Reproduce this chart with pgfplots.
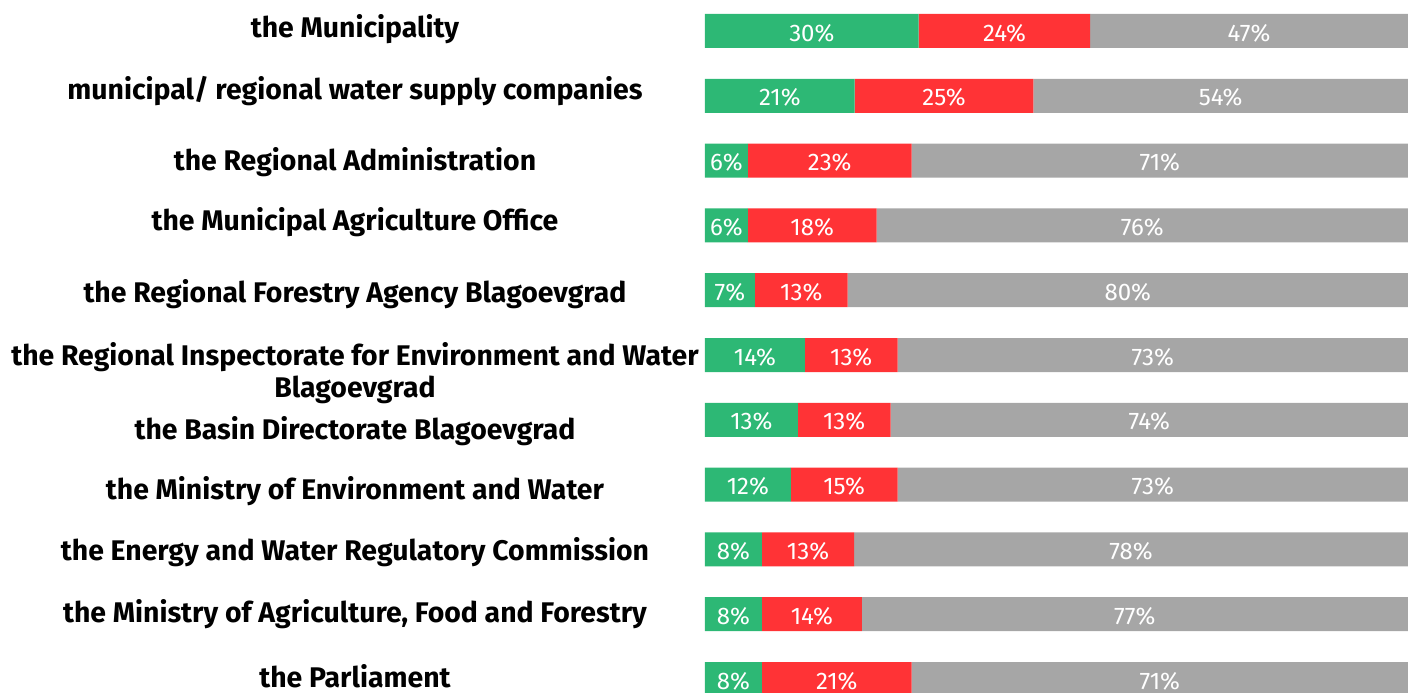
\documentclass[border=0pt]{standalone}
\usepackage{fontspec}
\setmainfont{Fira Sans}
\usepackage{pgfplots}
\usepackage{pgfplotstable}
\pgfplotsset{compat=1.18}

\definecolor{cgreen}{RGB}{45,184,117}
\definecolor{cred}{RGB}{255,51,54}
\definecolor{cgray}{RGB}{166,166,166}

% shares in % of bar length, labels as printed
\pgfplotstableread{
row g r n gl rl nl
0 30.4 24.4 45.2 30 24 47
1 21.3 25.4 53.3 21 25 54
2 6.1 23.3 70.6 6 23 71
3 6.1 18.3 75.6 6 18 76
4 7.1 13.2 79.7 7 13 80
5 14.2 13.2 72.6 14 13 73
6 13.2 13.2 73.6 13 13 74
7 12.2 15.2 72.6 12 15 73
8 8.1 13.1 78.8 8 13 78
9 8.1 14.2 77.7 8 14 77
10 8.1 21.3 70.6 8 21 71
}\data

\begin{document}
\begin{tikzpicture}
\begin{axis}[
    name=ax,
    xbar stacked,
    scale only axis,
    width=351.5pt, height=346pt,
    xmin=0, xmax=100,
    ymin=-0.478, ymax=10.2,
    y dir=reverse,
    bar width=17pt,
    axis line style={draw=none},
    major tick length=0pt,
    xtick=\empty,
    % ticks sit at the baselines of the category names
    ytick={0.054,1.011,2.100,3.030,4.147,6.262,7.185,8.131,9.085,10.077},
    yticklabels={the Municipality, municipal/ regional water supply companies,
        the Regional Administration, the Municipal Agriculture Office,
        the Regional Forestry Agency Blagoevgrad,
        the Basin Directorate Blagoevgrad, the Ministry of Environment and Water,
        the Energy and Water Regulatory Commission,
        {the Ministry of Agriculture, Food and Forestry}, the Parliament},
    extra y ticks={5.610},
    extra y tick labels={{the Regional Inspectorate for Environment and Water\\Blagoevgrad}},
    extra y tick style={major tick length=0pt, grid=none},
    yticklabel style={anchor=base, xshift=-175pt, yshift=-1.5pt, align=center, inner sep=0pt,
        font=\bfseries\fontsize{14.2}{16}\selectfont},
    nodes near coords={\pgfplotspointmeta\%},
    point meta=explicit symbolic,
    every node near coord/.append style={font=\fontsize{12}{14}\selectfont, text=white,
        anchor=center, yshift=-1pt},
]
\addplot[fill=cgreen, draw=none] table[x=g, y=row, meta=gl] {\data};
\addplot[fill=cred, draw=none] table[x=r, y=row, meta=rl] {\data};
\addplot[fill=cgray, draw=none] table[x=n, y=row, meta=nl] {\data};
\end{axis}
\pgfresetboundingbox
\path (ax.south west) ++(-352.5pt,0) rectangle (ax.north east);
\end{tikzpicture}
\end{document}
